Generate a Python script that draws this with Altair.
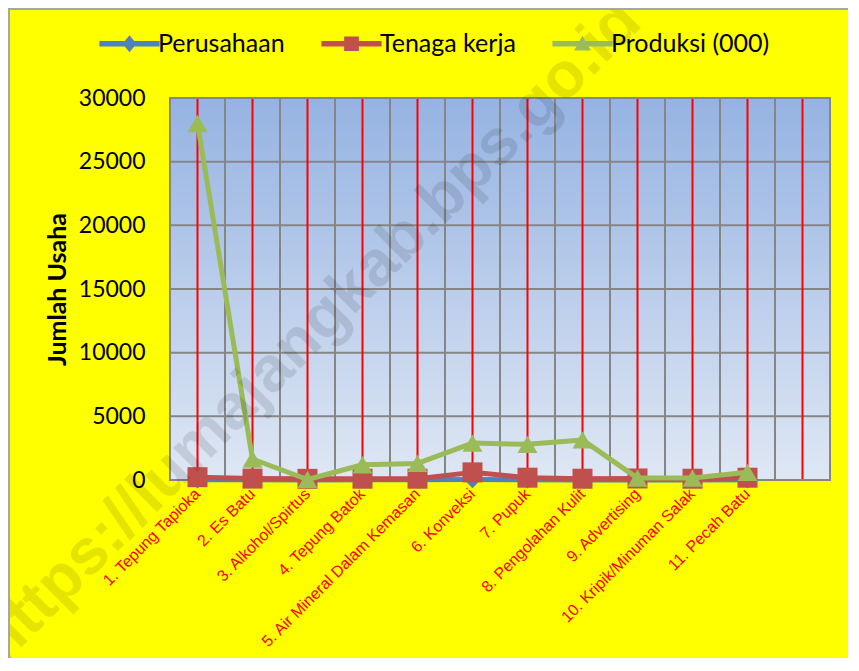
import altair as alt
import pandas as pd

categories = ["1. Tepung Tapioka", "2. Es Batu", "3. Alkohol/Spirtus", "4. Tepung Batok",
              "5. Air Mineral Dalam Kemasan", "6. Konveksi", "7. Pupuk", "8. Pengolahan Kulit",
              "9. Advertising", "10. Kripik/Minuman Salak", "11. Pecah Batu", " "]
series_names = ["Perusahaan", "Tenaga kerja", "Produksi (000)"]
perusahaan = [15, 10, 5, 10, 10, 40, 10, 5, 5, 5, 10]
tenaga_kerja = [220, 110, 90, 100, 100, 600, 180, 100, 120, 100, 180]
produksi = [28000, 1650, 40, 1200, 1300, 2900, 2800, 3150, 150, 150, 600]
y_ticks = [0, 5000, 10000, 15000, 20000, 25000, 30000]
colors = ["#4F81BD", "#C0504D", "#9BBB59"]
shapes = ["diamond", "square", "triangle-up"]
watermark = "https://lumajangkab.bps.go.id"

W, H = 660, 382
TOTAL_W, TOTAL_H = 840, 650
PAD_L, PAD_T = 162, 90

rows = []
for s, vals in zip(series_names, [perusahaan, tenaga_kerja, produksi]):
    for c, v in zip(categories, vals):
        rows.append({"kategori": c, "seri": s, "nilai": v})
df = pd.DataFrame(rows)
cat_df = pd.DataFrame({"kategori": categories})
tick_df = pd.DataFrame({"t": y_ticks})

x_scale = alt.Scale(type="band", domain=categories, paddingInner=0, paddingOuter=0)
y_scale = alt.Scale(domain=[0, 30000], nice=False)
color_scale = alt.Scale(domain=series_names, range=colors)

x_axis = alt.Axis(title=None, labelFont="Liberation Sans",
                  labelFontSize=16, labelColor="#FF0000", labelAngle=315,
                  labelAlign="right", labelBaseline="middle", labelPadding=11,
                  ticks=False, domain=False, grid=False, labelLimit=400, labelOverlap=False)
y_axis = alt.Axis(title="Jumlah Usaha", values=y_ticks, format="d", labelFont="Lato",
                  labelFontSize=23, labelColor="black", labelPadding=25, ticks=False,
                  domain=False, grid=False,
                  titleFont="Lato", titleFontSize=25, titleFontWeight="bold", titleColor="black",
                  titleAngle=270, titleX=57 - 170, titleY=H / 2, titleAlign="center",
                  titleBaseline="middle")

# legend symbols: a line with the marker on it
unit_line = "M-4.3,-0.38H4.3V0.38H-4.3Z "
paths = [unit_line + "M0,-1.2L1.0,0L0,1.2L-1.0,0Z",
         unit_line + "M-1.05,-1.05H1.05V1.05H-1.05Z",
         unit_line + "M0,-1.15L1.2,0.95L-1.2,0.95Z"]

legend = alt.Legend(title=None, orient="none", legendX=-53, legendY=-67, direction="horizontal",
                    labelFont="Lato", labelFontSize=25, labelColor="black", labelOffset=16,
                    columnPadding=36, symbolSize=196, symbolStrokeWidth=0, symbolOpacity=1)

gradient = alt.LinearGradient(gradient="linear",
                              stops=[alt.GradientStop(color="#95B3E2", offset=0),
                                     alt.GradientStop(color="#DFE7F4", offset=1)],
                              x1=0, x2=0, y1=0, y2=1)

one = alt.Data(values=[{"a": 1}])

bg = alt.Chart(one).mark_rect(color=gradient).encode(
    x=alt.value(0), x2=alt.value(W), y=alt.value(0), y2=alt.value(H))

vgrid = alt.Chart(cat_df).mark_rule(color="#868686", strokeWidth=2).encode(
    x=alt.X("kategori:N", scale=x_scale, axis=x_axis, bandPosition=0),
    y=alt.value(0), y2=alt.value(H))

hgrid = alt.Chart(tick_df).mark_rule(color="#868686", strokeWidth=2).encode(
    y=alt.Y("t:Q", scale=y_scale, axis=y_axis),
    x=alt.value(0), x2=alt.value(W))

red = alt.Chart(cat_df).mark_rule(color="#FF0000", strokeWidth=2).encode(
    x=alt.X("kategori:N", scale=x_scale, axis=x_axis),
    y=alt.value(0), y2=alt.value(H))

border = alt.Chart(one).mark_rect(fillOpacity=0, stroke="#868686", strokeWidth=2).encode(
    x=alt.value(0), x2=alt.value(W), y=alt.value(0), y2=alt.value(H))

outer = alt.Chart(one).mark_rect(fillOpacity=0, stroke="#A6A6A6", strokeWidth=2).encode(
    x=alt.value(-PAD_L + 1), x2=alt.value(W + 60), y=alt.value(-PAD_T + 1), y2=alt.value(H + 260))

layers = [bg, vgrid, hgrid, red, border]

# legend-only layer (invisible marks, visible legend)
leg = alt.Chart(df).mark_point(filled=True, opacity=0).encode(
    x=alt.X("kategori:N", scale=x_scale, axis=x_axis),
    y=alt.Y("nilai:Q", scale=y_scale, axis=y_axis),
    color=alt.Color("seri:N", scale=color_scale, legend=legend),
    shape=alt.Shape("seri:N", scale=alt.Scale(domain=series_names, range=paths), legend=legend))
layers.append(leg)

for name, shp in zip(series_names, shapes):
    base = alt.Chart(df).transform_filter(alt.datum.seri == name).encode(
        x=alt.X("kategori:N", scale=x_scale, axis=x_axis),
        y=alt.Y("nilai:Q", scale=y_scale, axis=y_axis),
        color=alt.Color("seri:N", scale=color_scale, legend=None))
    layers.append(base.mark_line(strokeWidth=5, strokeJoin="round", strokeCap="round"))
    layers.append(base.mark_point(filled=True, opacity=1, shape=shp,
                                  size=400 if shp != "diamond" else 300))

wm = alt.Chart(one).mark_text(text=watermark, font="Liberation Sans", fontWeight="bold",
                              fontSize=64, angle=315, color="#000000", opacity=0.1,
                              align="center", baseline="middle").encode(
    x=alt.value(140), y=alt.value(234))
layers.append(wm)
layers.append(outer)

chart = alt.layer(*layers).properties(
    width=W, height=H, background="#FFFF00", autosize="none",
    padding={"left": PAD_L, "top": PAD_T, "right": TOTAL_W - PAD_L - W, "bottom": TOTAL_H - PAD_T - H}
).configure_view(strokeWidth=0)

chart.save("out.html", embed_options={"renderer": "svg", "actions": False})
